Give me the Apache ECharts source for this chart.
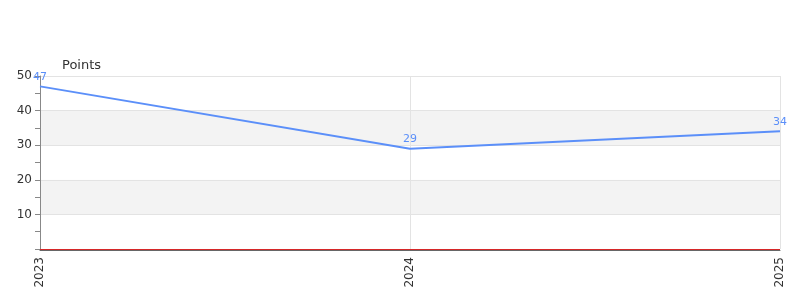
<!DOCTYPE html>
<html><head><meta charset="utf-8">
<script src="https://cdn.jsdelivr.net/npm/echarts@6/dist/echarts.min.js"></script>
<style>html,body{margin:0;padding:0;background:#fff}#c{width:800px;height:300px}</style>
</head><body><div id="c"></div>
<script>
const categories = ['2023', '2024', '2025'];
const points = [47, 29, 34];
const yTicks = [0, 10, 20, 30, 40, 50];

const chart = echarts.init(document.getElementById('c'), null, {renderer: 'canvas'});
chart.setOption({
  animation: false,
  textStyle: {fontFamily: 'DejaVu Sans'},
  grid: {left: 40, right: 20, top: 76, bottom: 51, containLabel: false},
  xAxis: {
    type: 'category', data: categories, boundaryGap: false, offset: 1,
    axisLine: {show: true, onZero: false, lineStyle: {color: '#666', width: 1}},
    axisTick: {show: false},
    axisLabel: {rotate: 90, color: '#333', fontSize: 12, margin: 7},
    splitLine: {show: true, lineStyle: {color: '#e3e3e3'}}
  },
  yAxis: {
    type: 'value', min: yTicks[0], max: yTicks[yTicks.length - 1], interval: 10,
    name: 'Points', nameLocation: 'end', nameGap: 4,
    nameTextStyle: {color: '#333', fontSize: 13, align: 'left', padding: [0, 0, 0, 22]},
    axisLine: {show: true, lineStyle: {color: '#888'}},
    axisTick: {show: true, length: 5, lineStyle: {color: '#888'}},
    minorTick: {show: true, splitNumber: 2, length: 5, lineStyle: {color: '#888'}},
    axisLabel: {color: '#333', fontSize: 12, showMinLabel: false, margin: 8},
    splitLine: {show: true, lineStyle: {color: '#e3e3e3'}},
    splitArea: {show: true, areaStyle: {color: ['#ffffff', '#f3f3f3']}}
  },
  series: [{
    type: 'line', data: points, symbol: 'circle', symbolSize: 0, showSymbol: true,
    z: 5,
    lineStyle: {color: '#5b8ff9', width: 2},
    itemStyle: {color: '#5b8ff9'},
    label: {show: true, position: 'top', color: '#5b8ff9', fontSize: 11, distance: 4},
    markLine: {
      silent: true, symbol: 'none', label: {show: false}, z: 10,
      lineStyle: {color: '#d62728', type: 'solid', width: 1},
      data: [{yAxis: 0}]
    }
  }]
});
</script></body></html>
